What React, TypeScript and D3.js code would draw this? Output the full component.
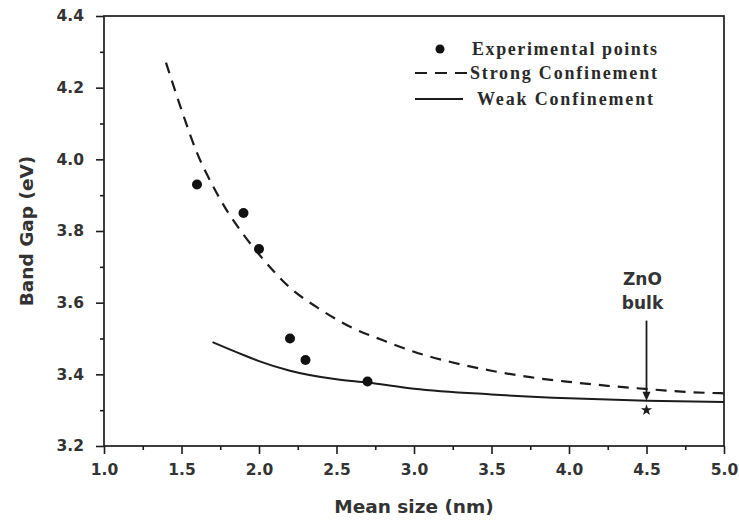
import React, { useEffect, useRef } from "react";
import * as d3 from "d3";

// ---- data ----
const expSize = [1.6, 1.9, 2.0, 2.2, 2.3, 2.7];
const expGap = [3.93, 3.85, 3.75, 3.5, 3.44, 3.38];

const strongSize = [1.4, 1.5, 1.6, 1.7, 1.8, 1.9, 2.0, 2.2, 2.4, 2.6, 2.8, 3.0, 3.25, 3.5, 3.75, 4.0, 4.25, 4.5, 4.75, 5.0];
const strongGap = [4.27, 4.138, 4.018, 3.928, 3.852, 3.79, 3.735, 3.642, 3.58, 3.53, 3.495, 3.463, 3.433, 3.41, 3.392, 3.379, 3.368, 3.359, 3.351, 3.347];

const weakSize = [1.7, 1.9, 2.0, 2.2, 2.5, 2.7, 3.0, 3.5, 4.0, 4.5, 5.0];
const weakGap = [3.49, 3.454, 3.437, 3.41, 3.386, 3.377, 3.36, 3.344, 3.333, 3.326, 3.323];

const bulkSize = 4.5;
const bulkGap = 3.3;
const arrowFrom = 3.55;
const arrowTo = 3.326;

const xTicks = [1.0, 1.5, 2.0, 2.5, 3.0, 3.5, 4.0, 4.5, 5.0];
const xMinor = [1.25, 1.75, 2.25, 2.75, 3.25, 3.75, 4.25, 4.75];
const yTicks = [3.2, 3.4, 3.6, 3.8, 4.0, 4.2, 4.4];
const yMinor = [3.3, 3.5, 3.7, 3.9, 4.1, 4.3];

const legendLabels = ["Experimental points", "Strong Confinement", "Weak Confinement"];
const xTitle = "Mean size (nm)";
const yTitle = "Band Gap (eV)";
const bulkLabel = ["ZnO", "bulk"];

const W = 739;
const H = 527;
const M = { left: 104, right: 15, top: 16, bottom: 81 };
const INK = "#1c1c1c";

export default function App() {
  const xAxisRef = useRef<SVGGElement>(null);
  const yAxisRef = useRef<SVGGElement>(null);

  const x = d3.scaleLinear().domain([1.0, 5.0]).range([M.left, W - M.right]);
  const y = d3.scaleLinear().domain([3.2, 4.4]).range([H - M.bottom, M.top]);

  useEffect(() => {
    const tickFont = "DejaVu Sans, Verdana, sans-serif";
    if (xAxisRef.current) {
      const g = d3.select(xAxisRef.current);
      g.selectAll("*").remove();
      g.call(
        d3.axisBottom(x).tickValues(xTicks).tickSize(8).tickPadding(10).tickFormat(d3.format(".1f"))
      );
      g.append("g").call(
        d3.axisBottom(x).tickValues(xMinor).tickSize(4).tickFormat(() => "")
      );
      g.selectAll(".domain").remove();
      g.selectAll("line").attr("stroke", INK).attr("stroke-width", 1.6);
      g.selectAll("text")
        .attr("fill", "#333")
        .style("font-family", tickFont)
        .style("font-weight", "bold")
        .style("font-size", "15.5px");
    }
    if (yAxisRef.current) {
      const g = d3.select(yAxisRef.current);
      g.selectAll("*").remove();
      g.call(
        d3.axisLeft(y).tickValues(yTicks).tickSize(8).tickPadding(12).tickFormat(d3.format(".1f"))
      );
      g.append("g").call(
        d3.axisLeft(y).tickValues(yMinor).tickSize(4).tickFormat(() => "")
      );
      g.selectAll(".domain").remove();
      g.selectAll("line").attr("stroke", INK).attr("stroke-width", 1.6);
      g.selectAll("text")
        .attr("fill", "#333")
        .style("font-family", tickFont)
        .style("font-weight", "bold")
        .style("font-size", "15.5px");
    }
  }, []);

  const strongLine = d3
    .line<number>()
    .x((_, i) => x(strongSize[i]))
    .y((d) => y(d))
    .curve(d3.curveMonotoneX)(strongGap) as string;

  const weakLine = d3
    .line<number>()
    .x((_, i) => x(weakSize[i]))
    .y((d) => y(d))
    .curve(d3.curveMonotoneX)(weakGap) as string;

  const star = d3.symbol().type(d3.symbolStar).size(40)() as string;

  const x0 = x.range()[0];
  const x1 = x.range()[1];
  const y0 = y.range()[0];
  const y1 = y.range()[1];

  const legendFont = "Liberation Serif, 'Times New Roman', serif";
  const ax = x(bulkSize);
  const aTop = y(arrowFrom);
  const aTip = y(arrowTo);

  return (
    <svg
      width={W}
      height={H}
      style={{ position: "absolute", left: 0, top: 0, background: "#fff" }}
    >
      <rect x={0} y={0} width={W} height={H} fill="#fff" />
      {/* frame */}
      <rect x={x0} y={y1} width={x1 - x0} height={y0 - y1} fill="none" stroke={INK} strokeWidth={1.7} />
      <g ref={xAxisRef} transform={`translate(0,${y0})`} />
      <g ref={yAxisRef} transform={`translate(${x0},0)`} />

      {/* curves */}
      <path d={strongLine} fill="none" stroke={INK} strokeWidth={2.2} strokeDasharray="11,8" />
      <path d={weakLine} fill="none" stroke={INK} strokeWidth={2} />

      {/* experimental points */}
      {expSize.map((s, i) => (
        <circle key={i} cx={x(s)} cy={y(expGap[i])} r={5} fill="#111" />
      ))}

      {/* bulk annotation */}
      <line x1={ax} x2={ax} y1={aTop} y2={aTip - 7} stroke={INK} strokeWidth={1.8} />
      <path
        d={`M${ax - 4},${aTip - 9} L${ax + 4},${aTip - 9} L${ax},${aTip} Z`}
        fill={INK}
      />
      <path d={star} transform={`translate(${ax},${y(bulkGap)})`} fill={INK} />
      <text
        x={ax - 4}
        y={285}
        textAnchor="middle"
        fontFamily="DejaVu Sans, sans-serif"
        fontWeight="bold"
        fontSize={17}
        fill="#333"
      >
        {bulkLabel[0]}
      </text>
      <text
        x={ax - 4}
        y={309}
        textAnchor="middle"
        fontFamily="DejaVu Sans, sans-serif"
        fontWeight="bold"
        fontSize={17}
        fill="#333"
      >
        {bulkLabel[1]}
      </text>

      {/* legend */}
      <circle cx={440} cy={49} r={4.5} fill="#111" />
      <text x={472} y={55} fontFamily={legendFont} fontWeight="bold" fontSize={18} fill="#2a2a2a" textLength={185} lengthAdjust="spacing">
        {legendLabels[0]}
      </text>
      <line x1={415} x2={468} y1={73} y2={73} stroke={INK} strokeWidth={2.2} strokeDasharray="12,8" />
      <text x={470} y={79} fontFamily={legendFont} fontWeight="bold" fontSize={18} fill="#2a2a2a" textLength={187} lengthAdjust="spacing">
        {legendLabels[1]}
      </text>
      <line x1={415} x2={463} y1={99} y2={99} stroke={INK} strokeWidth={2} />
      <text x={477} y={105} fontFamily={legendFont} fontWeight="bold" fontSize={18} fill="#2a2a2a" textLength={176} lengthAdjust="spacing">
        {legendLabels[2]}
      </text>

      {/* axis titles */}
      <text
        x={(x0 + x1) / 2}
        y={513}
        textAnchor="middle"
        fontFamily="DejaVu Sans, sans-serif"
        fontWeight="bold"
        fontSize={18.5}
        fill="#333"
      >
        {xTitle}
      </text>
      <text
        transform={`translate(33,${(y0 + y1) / 2}) rotate(-90)`}
        textAnchor="middle"
        fontFamily="DejaVu Sans, sans-serif"
        fontWeight="bold"
        fontSize={18.5}
        fill="#333"
      >
        {yTitle}
      </text>
    </svg>
  );
}
